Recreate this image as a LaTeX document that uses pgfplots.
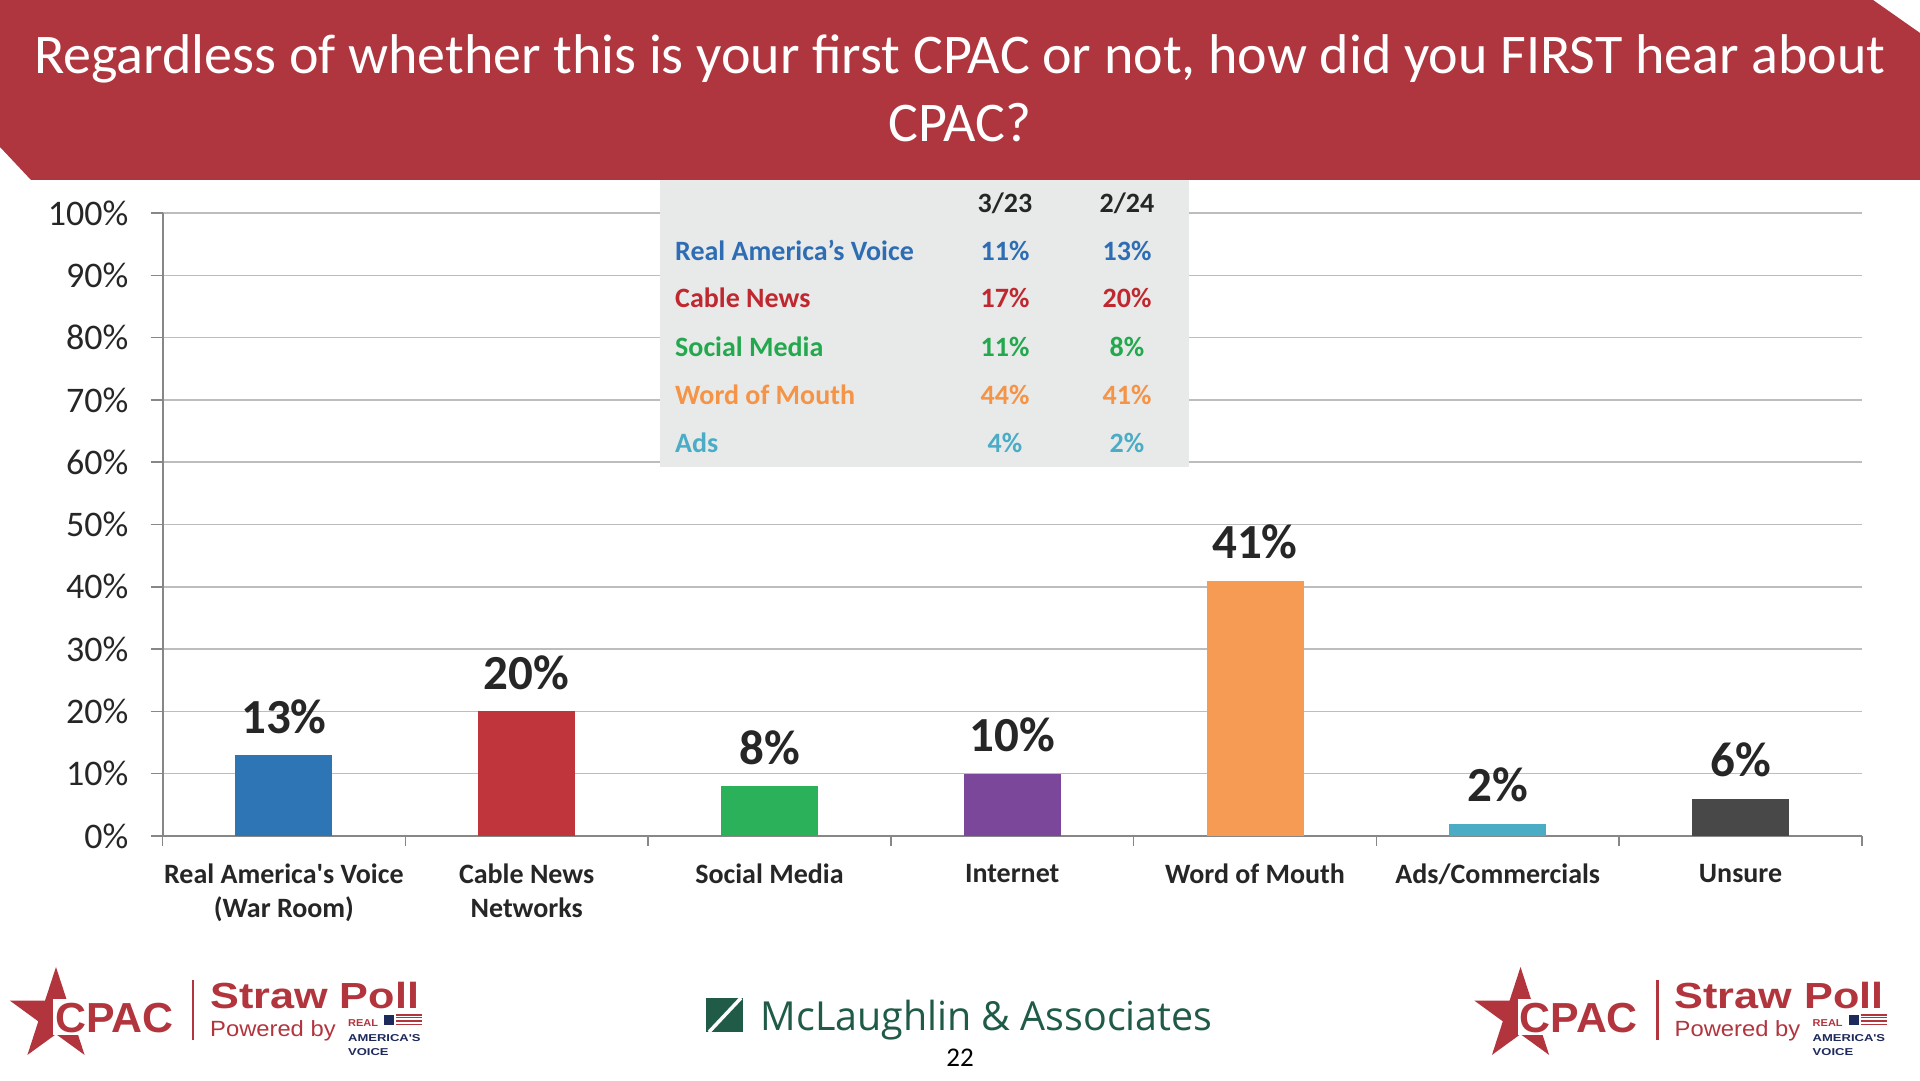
\documentclass[border=0pt]{standalone}
\usepackage{fontspec}
\setmainfont{Carlito}
\newfontfamily\arialf{Liberation Sans}
\newfontfamily\osans{Open Sans}
\usepackage{pgfplots}
\pgfplotsset{compat=1.18}
\definecolor{banner}{HTML}{AF363E}
\definecolor{logored}{HTML}{B2353E}
\definecolor{navy}{HTML}{1F2A5C}
\definecolor{mgreen}{HTML}{1F5B46}
\definecolor{gridgray}{HTML}{BDBDBD}
\definecolor{axisgray}{HTML}{878787}
\definecolor{txt}{HTML}{262626}
\definecolor{tblbg}{HTML}{E8EAEA}
\definecolor{cblue}{HTML}{2E75B6}
\definecolor{cred}{HTML}{C0343C}
\definecolor{cgreen}{HTML}{2BB15A}
\definecolor{cpurple}{HTML}{7A479A}
\definecolor{corange}{HTML}{F59B53}
\definecolor{clblue}{HTML}{4BACC6}
\definecolor{cgray}{HTML}{484848}
\definecolor{tblue}{HTML}{2E6DB4}
\definecolor{tred}{HTML}{C0282F}
\definecolor{tgreen}{HTML}{23A84E}
\definecolor{torange}{HTML}{F59346}
\definecolor{tlblue}{HTML}{4BACC6}
\newcommand\fs[2]{\fontsize{#1bp}{#2bp}\selectfont}
\newcommand\cpaclogo{%
  \fill[logored] (56,64.4) +(90:48.6) -- +(126:18.6) -- +(162:48.6) -- +(198:18.6) -- +(234:48.6) -- +(270:18.6) -- +(306:48.6) -- +(342:18.6) -- +(18:48.6) -- +(54:18.6) -- cycle;
  \fill[white] (53,45) rectangle (182,81);
  \node[anchor=base west, inner sep=0pt, text=logored, font=\arialf\bfseries\fs{42}{44}] at (55,48) {\scalebox{1.02}[1]{CPAC}};
  \draw[logored, line width=2.5bp] (193,40) -- (193,100);
  \node[anchor=base west, inner sep=0pt, text=logored, font=\arialf\bfseries\fs{36.3}{40}] at (210,72) {\scalebox{1.19}[1]{Straw Poll}};
  \node[anchor=base west, inner sep=0pt, text=logored, font=\arialf\fs{22}{24}] at (210,44) {\scalebox{1.08}[1]{Powered by}};
  \node[anchor=base west, inner sep=0pt, text=logored, font=\arialf\bfseries\fs{10}{11}] at (348,54) {\scalebox{1.1}[1]{REAL}};
  \fill[navy] (384,55) rectangle (394,65);
  \foreach \yy in {55.5,59,62.5,65} {\draw[logored, line width=1.3bp] (396,\yy) -- (422,\yy);}
  \node[anchor=base west, inner sep=0pt, text=navy, font=\arialf\bfseries\fs{10}{11}] at (348,39) {\scalebox{1.3}[1]{AMERICA\textquotesingle S}};
  \node[anchor=base west, inner sep=0pt, text=navy, font=\arialf\bfseries\fs{10}{11}] at (348,25) {\scalebox{1.3}[1]{VOICE}};
}
\begin{document}
\begin{tikzpicture}[x=1bp,y=1bp]
\fill[white] (0,0) rectangle (1920,1080);
\useasboundingbox (0,0) rectangle (1920,1080);
% banner
\fill[banner] (0,1080) -- (1873,1080) -- (1920,1047) -- (1920,900) -- (31,900) -- (0,933) -- cycle;
\node[anchor=base, inner sep=0pt, text=white, font=\fs{56}{60}] at (960,1006) {Regardless of whether this is your first CPAC or not, how did you FIRST hear about};
\node[anchor=base, inner sep=0pt, text=white, font=\fs{56}{60}] at (960,938) {CPAC?};
\begin{axis}[
  at={(162.5bp,244bp)}, anchor=south west,
  scale only axis, width=1699.5bp, height=623bp,
  xmin=-0.5, xmax=6.5, ymin=0, ymax=100,
  ybar, bar width=97bp, bar shift=0pt,
  axis x line*=bottom, axis y line*=left,
  axis line style={draw=axisgray, line width=2bp, -},
  ytick={0,10,...,100},
  ymajorgrids, grid style={draw=gridgray, line width=1.5bp},
  /pgf/number format/assume math mode=true,
  yticklabel={\pgfmathprintnumber{\tick}\%},
  xtick={0,...,6},
  xticklabels={{Real America\textquotesingle s Voice\\(War Room)},{Cable News\\Networks},Social Media,Internet,Word of Mouth,Ads/Commercials,Unsure},
  minor xtick={-0.5,0.5,...,6.5},
  tick align=outside,
  major tick length=12bp, minor tick length=10bp,
  major x tick style={draw=none},
  minor x tick style={draw=axisgray, line width=1.5bp},
  ytick style={draw=axisgray, line width=1.5bp},
  yticklabel style={font=\fs{36}{40}, text=txt, inner sep=0pt, anchor=east, xshift=-22bp},
  xticklabel style={font=\bfseries\fs{28}{34}, text=txt, align=center, inner sep=0pt, anchor=north, yshift=-16bp},
  nodes near coords={\pgfmathprintnumber{\pgfplotspointmeta}\%},
  every node near coord/.append style={font=\bfseries\fs{49}{52}, text=txt, anchor=base, yshift=22bp, inner sep=0pt},
]
\addplot[fill=cblue, draw=none] coordinates {(0,13)};
\addplot[fill=cred, draw=none] coordinates {(1,20)};
\addplot[fill=cgreen, draw=none] coordinates {(2,8)};
\addplot[fill=cpurple, draw=none] coordinates {(3,10)};
\addplot[fill=corange, draw=none] coordinates {(4,41)};
\addplot[fill=clblue, draw=none] coordinates {(5,2)};
\addplot[fill=cgray, draw=none] coordinates {(6,6)};
\end{axis}
% inset table
\fill[tblbg] (660,613) rectangle (1189,900);
\begin{scope}[every node/.style={inner sep=0pt, font=\bfseries\fs{28}{30}}]
\node[anchor=base, text=txt] at (1005,867) {3/23};
\node[anchor=base, text=txt] at (1127,867) {2/24};
\node[anchor=base west, text=tblue] at (675,819) {Real America’s Voice};
\node[anchor=base, text=tblue] at (1005,819) {11\%};
\node[anchor=base, text=tblue] at (1127,819) {13\%};
\node[anchor=base west, text=tred] at (675,772) {Cable News};
\node[anchor=base, text=tred] at (1005,772) {17\%};
\node[anchor=base, text=tred] at (1127,772) {20\%};
\node[anchor=base west, text=tgreen] at (675,723) {Social Media};
\node[anchor=base, text=tgreen] at (1005,723) {11\%};
\node[anchor=base, text=tgreen] at (1127,723) {8\%};
\node[anchor=base west, text=torange] at (675,675) {Word of Mouth};
\node[anchor=base, text=torange] at (1005,675) {44\%};
\node[anchor=base, text=torange] at (1127,675) {41\%};
\node[anchor=base west, text=tlblue] at (675,627) {Ads};
\node[anchor=base, text=tlblue] at (1005,627) {4\%};
\node[anchor=base, text=tlblue] at (1127,627) {2\%};
\end{scope}
% logos
\begin{scope}\cpaclogo\end{scope}
\begin{scope}[xshift=1464.5bp]\cpaclogo\end{scope}
% McLaughlin
\fill[mgreen] (705.5,48) rectangle (743.4,82);
\draw[white, line width=3.5bp] (709,48) -- (741,82);
\node[anchor=base west, inner sep=0pt, text=mgreen, font=\osans\fs{40}{44}] at (760.6,50) {\scalebox{0.985}[1]{McLaughlin \& Associates}};
\node[anchor=base, inner sep=0pt, text=black, font=\fs{27}{30}] at (960,14) {22};
\end{tikzpicture}
\end{document}
